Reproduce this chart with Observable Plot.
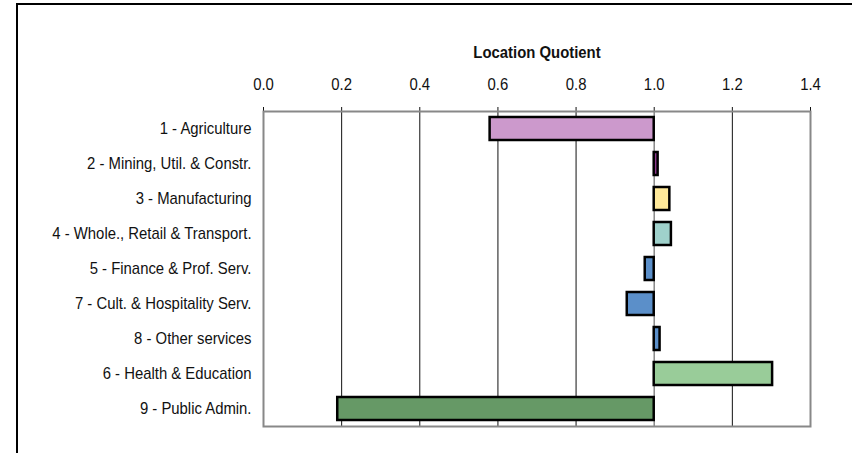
<!DOCTYPE html>
<html><head><meta charset="utf-8">
<script src="https://cdn.jsdelivr.net/npm/d3@7"></script>
<script src="https://cdn.jsdelivr.net/npm/@observablehq/plot@0.6"></script>
<style>
body{margin:0;background:#fff;}
#wrap{position:relative;width:852px;height:453px;overflow:hidden;}
#frame{position:absolute;left:16px;top:3px;right:-5px;bottom:-5px;border-left:2px solid #000;border-top:2px solid #000;pointer-events:none;}
</style>
</head><body>
<div id="wrap"><div id="chart"></div><div id="frame"></div></div>
<script>
const categories = [
  "1 - Agriculture",
  "2 - Mining, Util. & Constr.",
  "3 - Manufacturing",
  "4 - Whole., Retail & Transport.",
  "5 - Finance & Prof. Serv.",
  "7 - Cult. & Hospitality Serv.",
  "8 - Other services",
  "6 - Health & Education",
  "9 - Public Admin."
];
const values = [0.58, 1.01, 1.04, 1.044, 0.977, 0.931, 1.015, 1.303, 0.19];
const colors = ["#CC99CC", "#8E3A8E", "#FFE99A", "#9FD1CB", "#5B8FC9", "#5B8FC9", "#5B8FC9", "#99CC99", "#669966"];
const xTicks = [0, 0.2, 0.4, 0.6, 0.8, 1.0, 1.2, 1.4];
const gridTicks = [0.2, 0.4, 0.6, 0.8, 1.2];
const axisTitle = "Location Quotient";

const data = categories.map((c, i) => ({cat: c, value: values[i], color: colors[i]}));

const chart = Plot.plot({
  width: 852,
  height: 453,
  marginLeft: 263,
  marginRight: 42,
  marginTop: 111,
  marginBottom: 27,
  style: {fontFamily: "'Liberation Sans', Arial, sans-serif", fontSize: "17px", background: "#fff", color: "#111"},
  x: {domain: [0, 1.4], axis: "top", ticks: xTicks, tickFormat: d3.format(".1f"), tickSize: 5, tickPadding: 17, label: null, line: true},
  y: {domain: categories, paddingInner: 0.34, paddingOuter: 0.14, tickSize: 0, tickPadding: 12, label: null},
  color: {type: "identity"},
  marks: [
    Plot.ruleX(gridTicks, {stroke: "#111", strokeWidth: 1}),
    Plot.ruleX([1.0], {stroke: "#888", strokeWidth: 1.5}),
    Plot.frame({stroke: "#888", strokeWidth: 2}),
    Plot.barX(data, {y: "cat", x1: 1, x2: "value", fill: "color", stroke: "#000", strokeWidth: 2.5}),
    Plot.text([axisTitle], {frameAnchor: "top", dy: -66, text: d => d, fontWeight: "bold", fontSize: 17})
  ]
});
document.getElementById("chart").appendChild(chart);
// condense the glyphs to mimic a narrow typeface
chart.querySelectorAll("text").forEach(t => {
  const w = t.getComputedTextLength();
  if (w > 0) {
    t.setAttribute("textLength", (w * 0.875).toFixed(1));
    t.setAttribute("lengthAdjust", "spacingAndGlyphs");
  }
});
</script>
</body></html>
